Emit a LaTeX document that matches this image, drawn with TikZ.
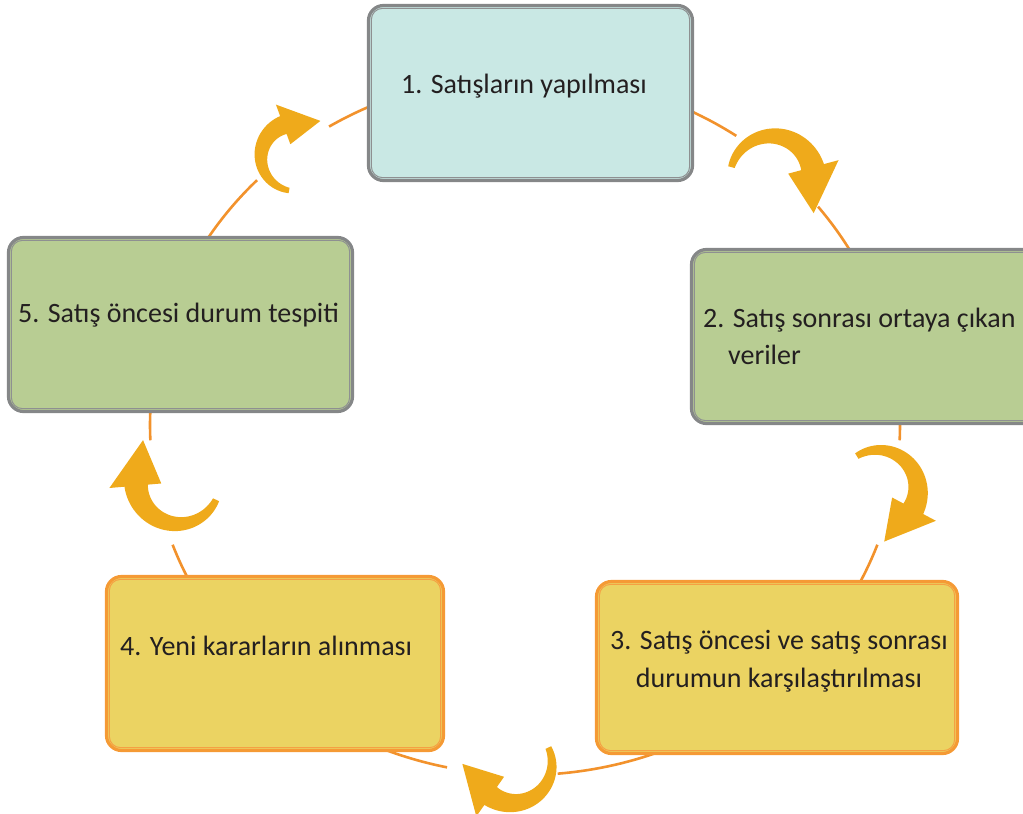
\documentclass[tikz,border=0pt]{standalone}
\usepackage{fontspec}
\setmainfont{Carlito}
\definecolor{ink}{HTML}{231F20}
\definecolor{cyanfill}{HTML}{C9E8E4}
\definecolor{greenfill}{HTML}{B8CD93}
\definecolor{yellowfill}{HTML}{EBD362}
\definecolor{graytone}{HTML}{858788}
\definecolor{graylight}{HTML}{8E9091}
\definecolor{orangetone}{HTML}{F59A35}
\definecolor{orangelight}{HTML}{F5A043}
\definecolor{ringorange}{HTML}{F2922C}
\definecolor{arrowgold}{HTML}{EFAA1B}
\tikzset{
  stage/.style 2 args={draw=#2, fill=#1, line width=3.2pt, rounded corners=15pt, inner sep=0pt},
  rim/.style={draw=#1, line width=1pt, rounded corners=11pt},
  caption/.style={font=\fontsize{28}{37}\selectfont, text=ink, inner sep=0pt},
  ring/.style={draw=ringorange, line width=2.6pt},
  % curved clockwise arrow; arc of radius 1 around the origin, tapering tail
  curvarrow/.pic={
    \fill[arrowgold]
      plot[domain=160:10, samples=40, variable=\t]
        ({(1.08+0.2*(160-\t)/150)*cos(\t)}, {(1.08+0.2*(160-\t)/150)*sin(\t)})
      -- ({1.64*cos(10)},{1.64*sin(10)}) -- (0.916,-0.92) -- ({0.4*cos(10)},{0.4*sin(10)})
      -- plot[domain=10:160, samples=40, variable=\t]
        ({(0.92-0.2*(160-\t)/150)*cos(\t)}, {(0.92-0.2*(160-\t)/150)*sin(\t)})
      -- cycle;
  }
}
\begin{document}
\begin{tikzpicture}[x=1pt,y=1pt]
\useasboundingbox (0,0) rectangle (1023,-814);
\clip (0,0) rectangle (1023,-814);

% the cycle line, broken where the arrows sit
\coordinate (o) at (525,-425);
\foreach \s/\e in {55.7/121.5, 135.6/182.5, 200/258, 275/340, 357.5/398.6}
  \draw[ring] (o) ++(\s:375pt and 350pt)
    arc[start angle=\s, end angle=\e, x radius=375pt, y radius=350pt];

% turning arrows along the cycle
\pic[rotate=5, scale=42] (a1) at (772,-178) {curvarrow};
\pic[rotate=-38, scale=40] (a2) at (878,-490) {curvarrow};
\pic[rotate=-135, scale=39] (a3) at (513,-764) {curvarrow};
\pic[rotate=175, scale=42] (a4) at (178,-482) {curvarrow};
\pic[rotate=100, scale=34] (a5) at (295,-157) {curvarrow};

% stage boxes
\node[stage={cyanfill}{graytone}, minimum width=324pt, minimum height=175pt] (s1) at (530.5,-93) {};
\node[stage={greenfill}{graytone}, minimum width=354pt, minimum height=174pt] (s2) at (868.5,-336.5) {};
\node[stage={yellowfill}{orangetone}, minimum width=361pt, minimum height=172pt] (s3) at (777,-667.5) {};
\node[stage={yellowfill}{orangetone}, minimum width=337pt, minimum height=174pt] (s4) at (275,-663.5) {};
\node[stage={greenfill}{graytone}, minimum width=344pt, minimum height=174pt] (s5) at (180.5,-324.5) {};

% thin inner line of each double border
\foreach \b/\c in {s1/graylight, s2/graylight, s3/orangelight, s4/orangelight, s5/graylight}
  \draw[rim=\c] ([shift={(4.5pt,-4.5pt)}]\b.north west) rectangle ([shift={(-4.5pt,4.5pt)}]\b.south east);

% captions
\node[caption, anchor=base west] (t1) at (401,-93) {1. Satışların yapılması};
\node[caption, anchor=base west] (t2a) at (703,-327) {2. Satış sonrası ortaya çıkan};
\node[caption, anchor=base west] (t2b) at (728,-364) {veriler};
\node[caption, anchor=base] (t3a) at (779,-649) {3. Satış öncesi ve satış sonrası};
\node[caption, anchor=base] (t3b) at (779,-687) {durumun karşılaştırılması};
\node[caption, anchor=base west] (t4) at (120,-655) {4. Yeni kararların alınması};
\node[caption, anchor=base west] (t5) at (18,-322) {5. Satış öncesi durum tespiti};
\end{tikzpicture}
\end{document}
